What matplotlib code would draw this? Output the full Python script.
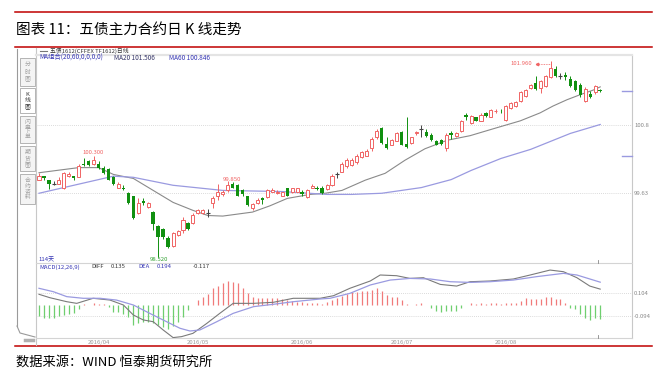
"""TF1612 daily K-line screenshot recreation"""

import matplotlib
matplotlib.use("Agg")
import matplotlib.pyplot as plt
from matplotlib.patches import Rectangle
import numpy as np

plt.rcParams['font.family'] = ['Noto Sans CJK SC', 'DejaVu Sans']

W, H = 666, 378

# daily candles, 114 trading days (2016/03 mid -> 2016/08 end)
opens = [99.88, 99.94, 99.87, 99.81, 99.81, 99.73, 99.94, 99.94, 99.92, 100.16,
         100.20, 100.15, 100.16, 100.08, 100.06, 99.92, 99.74, 99.74, 99.64, 99.59,
         99.29, 99.50, 99.40, 99.31, 99.06, 99.01, 98.85, 98.71, 98.91, 98.99,
         99.12, 99.12, 99.29, 99.29, 99.29, 99.47, 99.59, 99.62, 99.69, 99.81,
         99.78, 99.69, 99.59, 99.38, 99.47, 99.55, 99.57, 99.67, 99.64, 99.60,
         99.73, 99.66, 99.67, 99.67, 99.57, 99.74, 99.74, 99.74, 99.71, 99.78,
         99.97, 100.02, 100.11, 100.13, 100.18, 100.27, 100.30, 100.44, 100.62, 100.79,
         100.51, 100.49, 100.56, 100.72, 100.51, 100.53, 100.69, 100.76, 100.72, 100.67,
         100.56, 100.58, 100.44, 100.70, 100.65, 100.74, 101.02, 100.88, 100.97, 100.91,
         101.05, 100.98, 101.08, 101.09, 100.93, 101.14, 101.17, 101.26, 101.35, 101.49,
         101.58, 101.49, 101.52, 101.68, 101.82, 101.70, 101.72, 101.65, 101.61, 101.54,
         101.26, 101.38, 101.42, 101.45]
highs = [99.99, 99.95, 99.88, 99.85, 99.92, 100.01, 100.01, 99.95, 100.15, 100.25,
         100.23, 100.30, 100.20, 100.11, 100.08, 99.94, 99.83, 99.78, 99.67, 99.60,
         99.55, 99.55, 99.48, 99.33, 99.08, 99.03, 98.89, 98.96, 98.99, 99.22,
         99.13, 99.29, 99.36, 99.36, 99.36, 99.60, 99.81, 99.69, 99.85, 99.83,
         99.80, 99.71, 99.60, 99.47, 99.55, 99.57, 99.71, 99.74, 99.69, 99.67,
         99.74, 99.74, 99.74, 99.69, 99.71, 99.81, 99.76, 99.76, 99.80, 99.97,
         100.02, 100.18, 100.25, 100.25, 100.32, 100.39, 100.41, 100.62, 100.76, 100.81,
         100.62, 100.60, 100.72, 100.74, 100.98, 100.63, 100.74, 100.84, 100.76, 100.69,
         100.58, 100.60, 100.69, 100.74, 100.72, 100.93, 101.05, 101.02, 100.98, 101.04,
         101.07, 101.12, 101.12, 101.12, 101.19, 101.24, 101.26, 101.44, 101.47, 101.56,
         101.70, 101.63, 101.72, 101.96, 101.87, 101.75, 101.77, 101.70, 101.63, 101.58,
         101.51, 101.44, 101.54, 101.47]
lows = [99.87, 99.87, 99.71, 99.78, 99.80, 99.71, 99.92, 99.88, 99.92, 100.11,
        100.11, 100.13, 100.06, 99.97, 99.87, 99.78, 99.73, 99.69, 99.45, 99.19,
        99.27, 99.43, 99.38, 98.99, 98.52, 98.84, 98.68, 98.70, 98.89, 98.94,
        98.99, 99.10, 99.27, 99.27, 99.22, 99.38, 99.52, 99.60, 99.67, 99.73,
        99.59, 99.60, 99.41, 99.34, 99.45, 99.45, 99.55, 99.66, 99.62, 99.59,
        99.59, 99.64, 99.66, 99.60, 99.55, 99.73, 99.69, 99.62, 99.69, 99.76,
        99.90, 100.01, 100.09, 100.11, 100.16, 100.25, 100.29, 100.39, 100.60, 100.51,
        100.42, 100.48, 100.55, 100.48, 100.44, 100.51, 100.67, 100.62, 100.63, 100.56,
        100.48, 100.49, 100.39, 100.60, 100.63, 100.72, 100.93, 100.86, 100.90, 100.90,
        100.98, 100.97, 101.05, 101.05, 100.91, 101.12, 101.16, 101.24, 101.33, 101.47,
        101.45, 101.40, 101.51, 101.66, 101.68, 101.65, 101.63, 101.51, 101.44, 101.33,
        101.24, 101.31, 101.38, 101.42]
closes = [99.94, 99.90, 99.80, 99.81, 99.88, 99.99, 99.97, 99.90, 100.11, 100.13,
          100.13, 100.22, 100.08, 99.99, 99.88, 99.80, 99.81, 99.71, 99.47, 99.20,
          99.47, 99.47, 99.47, 99.10, 98.87, 98.87, 98.70, 98.94, 98.98, 99.17,
          99.01, 99.26, 99.34, 99.34, 99.29, 99.55, 99.66, 99.66, 99.78, 99.74,
          99.60, 99.62, 99.43, 99.45, 99.53, 99.53, 99.69, 99.69, 99.67, 99.66,
          99.60, 99.73, 99.73, 99.62, 99.69, 99.76, 99.71, 99.64, 99.78, 99.95,
          99.97, 100.16, 100.23, 100.23, 100.30, 100.37, 100.39, 100.60, 100.74, 100.53,
          100.44, 100.58, 100.70, 100.49, 100.46, 100.62, 100.72, 100.76, 100.65, 100.58,
          100.49, 100.51, 100.67, 100.67, 100.70, 100.91, 100.97, 101.00, 100.91, 101.02,
          101.00, 101.10, 101.09, 101.08, 101.17, 101.23, 101.24, 101.42, 101.45, 101.54,
          101.47, 101.61, 101.70, 101.84, 101.70, 101.70, 101.68, 101.52, 101.45, 101.37,
          101.47, 101.33, 101.52, 101.44]

ma20_idx = [0, 8, 12, 15, 19, 23, 27, 31, 34, 37, 43, 46.5, 50, 54.6, 57.6, 61, 65.7,
            69.7, 73.7, 77.7, 82.2, 86.8, 92.2, 96.9, 100.9, 103.5, 106.3, 109, 111.6, 113]
ma20_val = [100.00, 100.09, 100.09, 99.97, 99.90, 99.69, 99.48, 99.34, 99.25, 99.24,
            99.31, 99.42, 99.55, 99.62, 99.64, 99.69, 99.87, 99.99, 100.22, 100.42,
            100.57, 100.65, 100.79, 100.91, 101.05, 101.17, 101.28, 101.37, 101.45, 101.506]
ma60_idx = [0, 15, 19, 27, 37, 49, 58, 63, 69, 77, 83, 87, 93, 99, 107, 113]
ma60_val = [99.64, 99.94, 99.92, 99.78, 99.69, 99.67, 99.62, 99.62, 99.64, 99.74,
            99.88, 100.04, 100.25, 100.41, 100.69, 100.846]

macd_hist = [-0.091, -0.108, -0.113, -0.108, -0.093, -0.085, -0.079, -0.071, -0.037, 0.006,
             0.003, 0.014, 0.011, 0.006, -0.014, -0.057, -0.062, -0.079, -0.099, -0.170,
             -0.156, -0.142, -0.142, -0.156, -0.170, -0.184, -0.204, -0.176, -0.142, -0.099,
             -0.042, 0.004, 0.042, 0.071, 0.091, 0.142, 0.164, 0.184, 0.204, 0.198,
             0.184, 0.142, 0.099, 0.071, 0.057, 0.057, 0.062, 0.062, 0.057, 0.051,
             0.042, 0.034, 0.028, 0.023, 0.020, 0.017, 0.014, 0.008, 0.023, 0.042,
             0.057, 0.079, 0.091, 0.108, 0.113, 0.119, 0.119, 0.127, 0.147, 0.119,
             0.085, 0.071, 0.071, 0.042, 0.011, 0.002, 0.008, 0.014, -0.003, -0.023,
             -0.051, -0.062, -0.051, -0.051, -0.051, -0.023, 0.002, 0.014, 0.008, 0.014,
             0.008, 0.020, 0.014, 0.008, 0.014, 0.020, 0.020, 0.037, 0.057, 0.051,
             0.048, 0.051, 0.065, 0.065, 0.048, 0.048, 0.020, -0.023, -0.034, -0.079,
             -0.108, -0.127, -0.113, -0.117]
diff_idx = [0, 2.2, 5.6, 7.6, 10.9, 14.3, 17, 19, 21, 23, 25, 27, 28.7, 31, 33.8, 36.4,
            39.1, 43.2, 47.2, 51.2, 56.6, 59.3, 62.6, 66.7, 68.7, 72, 74.7, 77.4, 80.8,
            84.1, 86.8, 90.8, 95.5, 98.9, 102.9, 105.6, 108.3, 110.9, 113]
diff_val = [0.091, 0.062, 0.028, 0.014, 0.057, 0.042, 0.0, -0.085, -0.127, -0.142,
            -0.212, -0.277, -0.269, -0.241, -0.156, -0.071, 0.014, 0.014, 0.023, 0.057,
            0.057, 0.079, 0.142, 0.204, 0.255, 0.249, 0.226, 0.232, 0.175, 0.161,
            0.198, 0.204, 0.221, 0.255, 0.297, 0.283, 0.232, 0.161, 0.135]
dea_idx = [0, 2.9, 5.6, 8.9, 12.3, 15.6, 19, 22.3, 25.7, 28.4, 30.4, 32.4, 35.8, 39.1,
           43.2, 47.2, 51.2, 56.6, 58.6, 62.6, 66.7, 70.7, 74.7, 78.8, 82.8, 86.8, 90.8,
           95.5, 100.2, 105.6, 108.3, 113]
dea_val = [0.142, 0.113, 0.071, 0.057, 0.057, 0.042, 0.0, -0.071, -0.142, -0.198,
           -0.221, -0.212, -0.142, -0.071, -0.014, 0.006, 0.028, 0.051, 0.057, 0.099,
           0.170, 0.212, 0.226, 0.221, 0.198, 0.192, 0.198, 0.212, 0.241, 0.269,
           0.255, 0.194]

month_idx = [12, 32, 53, 73, 94]
month_labels = ['2016/04', '2016/05', '2016/06', '2016/07', '2016/08']

RED = '#f06464'
GREEN = '#109010'
LGREEN = '#6fcf6f'
LAV = '#9a9ae0'
BLUE = '#3434b4'


def frac(x0, y0, x1, y1):
    return [x0 / W, 1 - y1 / H, (x1 - x0) / W, (y1 - y0) / H]


fig = plt.figure(figsize=(W / 100, H / 100), dpi=100)

# pixel-space layer for the page and the terminal frame
deco = fig.add_axes([0, 0, 1, 1])
deco.set_xlim(0, W)
deco.set_ylim(H, 0)
deco.axis('off')

for yy in (12, 47, 346):
    deco.plot([15, 652], [yy, yy], color='#c00000', lw=1.1)
deco.text(16, 30, '图表 11：五债主力合约日 K 线走势', fontsize=10.5, va='center')
deco.text(16, 362, '数据来源：WIND 恒泰期货研究所', fontsize=9.5, va='center')

# left tab strip
deco.plot([17, 17], [49, 326], color='#9a9a9a', lw=0.8)
deco.plot([17, 20, 35], [326, 333, 337], color='#9a9a9a', lw=0.8)
tabs = [(58, 86, '分时图'), (88, 113, 'K线图'), (116, 143, '闪电下单'),
        (146, 171, '期货圈'), (174, 204, '合约资料')]
for k, (t0, t1, name) in enumerate(tabs):
    fc = 'white' if k == 1 else '#f4f4f4'
    deco.add_patch(Rectangle((20, t0), 15, t1 - t0, facecolor=fc, edgecolor='#a8a8a8', lw=0.6))
    step = min(7.0, (t1 - t0 - 8) / len(name))
    start = (t0 + t1) / 2 - step * (len(name) - 1) / 2
    for j, ch in enumerate(name):
        deco.text(27.5, start + j * step, ch, fontsize=4.2, ha='center', va='center',
                  color='#333333' if k == 1 else '#a0a0a0')
deco.plot([25, 33], [340, 340], color='#b0b0b0', lw=2.5)

# chart frame
deco.plot([36, 36], [48, 345], color='#c8c8c8', lw=0.8)
deco.plot([632, 632], [55, 338], color='#c8c8c8', lw=0.8)
deco.plot([36, 632], [54.5, 54.5], color='#e4e4e4', lw=1.6)
deco.plot([36, 632], [263, 263], color='#d4d4d4', lw=0.8)
deco.plot([36, 632], [338, 338], color='#d4d4d4', lw=0.8)
deco.plot([40, 47], [50.5, 50.5], color='#777777', lw=0.8)
deco.text(50, 50.5, '五债1612(CFFEX TF1612)日线', fontsize=4.2, va='center', color='#333333')
deco.text(39, 57.5, 'MA组合(20,60,0,0,0,0)', fontsize=4.6, va='center', color=BLUE)
deco.text(114, 57.5, 'MA20 101.506', fontsize=4.6, va='center', color='#333366')
deco.text(169, 57.5, 'MA60 100.846', fontsize=4.6, va='center', color=BLUE)
deco.text(38, 259.5, '114天', fontsize=4.3, va='center', color=BLUE)
macd_head = [(39, 'MACD(12,26,9)', BLUE), (91, 'DIFF', '#333333'), (111, '0.135', '#333333'),
             (138, 'DEA', BLUE), (157, '0.194', BLUE), (193, '-0.117', '#333333')]
for xx, s, col in macd_head:
    deco.text(xx, 267, s, fontsize=4.3, va='center', color=col)
for yy in (91, 156):
    deco.plot([622, 632], [yy, yy], color=LAV, lw=1.0)
for yy in (260, 335):
    deco.plot([598, 598], [yy, yy + 3], color='#888888', lw=0.6)

# price panel
ax = fig.add_axes(frac(36, 55, 632, 263))
x = np.arange(len(opens))
o, h, l, c = (np.array(v) for v in (opens, highs, lows, closes))
up, dn, fl = c > o, c < o, c == o
ax.vlines(x[up], l[up], h[up], color=RED, lw=0.7, zorder=2)
ax.bar(x[up], (c - o)[up], bottom=o[up], width=0.62, facecolor='white',
       edgecolor=RED, lw=0.7, zorder=3)
ax.vlines(x[dn], l[dn], h[dn], color=GREEN, lw=0.7, zorder=2)
ax.bar(x[dn], (c - o)[dn], bottom=o[dn], width=0.7, color=GREEN, lw=0, zorder=3)
ax.vlines(x[fl], l[fl], h[fl], color='#444444', lw=0.7, zorder=2)
ax.hlines(o[fl], x[fl] - 0.4, x[fl] + 0.4, color='#444444', lw=0.8, zorder=3)

ax.plot(ma20_idx, ma20_val, color='#8a8a8a', lw=0.8, zorder=1)
ax.plot(ma60_idx, ma60_val, color=LAV, lw=0.9, zorder=1)
for yv in (99.64, 100.84):
    ax.axhline(yv, color='#cfcfcf', lw=0.6, ls=(0, (1, 1.5)), zorder=0)

ax.text(10.8, 100.35, '100.300', fontsize=4.3, ha='center', va='center', color=RED)
ax.text(24.2, 98.47, '98.520', fontsize=4.3, ha='center', va='center', color='#30a030')
ax.text(38.9, 99.88, '99.850', fontsize=4.3, ha='center', va='center', color=RED)
ax.text(97.1, 101.91, '101.960', fontsize=4.3, ha='center', va='center', color=RED)
ax.plot([100.2, 103], [101.91, 101.91], color=RED, lw=0.6, ls=(0, (1, 1)))
ax.plot([100.2], [101.91], marker='<', ms=1.8, color=RED)

ax.set_xlim(-0.6, 119.4)
ax.set_ylim(98.417, 102.065)
ax.yaxis.tick_right()
ax.set_yticks([99.64, 100.84], ['99.63', '100.8'])
ax.set_xticks([])
ax.tick_params(axis='y', length=0, pad=1.5, labelsize=4.3, labelcolor='#888888')
for s in ax.spines.values():
    s.set_visible(False)
ax.patch.set_alpha(0)

# MACD panel
am = fig.add_axes(frac(36, 263, 632, 338))
hist = np.array(macd_hist)
pos = hist >= 0
am.vlines(x[pos], 0, hist[pos], color='#f07a7a', lw=0.9)
am.vlines(x[~pos], 0, hist[~pos], color=LGREEN, lw=0.9)
am.plot(diff_idx, diff_val, color='#7a7a7a', lw=0.8)
am.plot(dea_idx, dea_val, color=LAV, lw=0.9)
for yv in (0.104, -0.094):
    am.axhline(yv, color='#cfcfcf', lw=0.6, ls=(0, (1, 1.5)), zorder=0)
am.set_xlim(-0.6, 119.4)
am.set_ylim(-0.2805, 0.357)
am.yaxis.tick_right()
am.set_yticks([-0.094, 0.104], ['-0.094', '0.104'])
am.set_xticks(month_idx, month_labels)
am.tick_params(axis='y', length=0, pad=1.5, labelsize=4.3, labelcolor='#888888')
am.tick_params(axis='x', length=0, pad=1.2, labelsize=4.3, labelcolor='#999999')
for s in am.spines.values():
    s.set_visible(False)
am.patch.set_alpha(0)

fig.savefig('out.png', dpi=100)
